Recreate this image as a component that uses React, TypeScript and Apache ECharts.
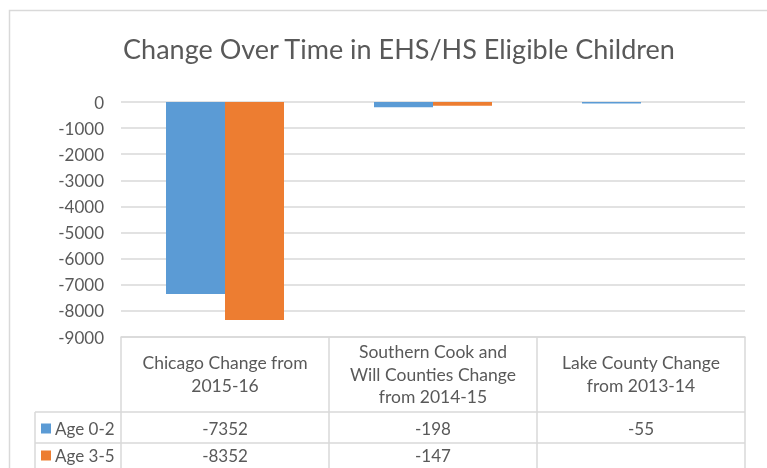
import React, { useEffect, useRef } from "react";
import * as echarts from "echarts";

const categories = [
  "Chicago Change from\n2015-16",
  "Southern Cook and\nWill Counties Change\nfrom 2014-15",
  "Lake County Change\nfrom 2013-14",
];
const seriesNames = ["Age 0-2", "Age 3-5"];
const age02 = [-7352, -198, -55];
const age35: (number | null)[] = [-8352, -147, null];
const colors = ["#5b9bd5", "#ed7d31"];
const yTicks = { min: -9000, max: 0, interval: 1000 };

const FONT = "Lato";
const TXT = "#595959";
const LINE = "#d9d9d9";

export default function App() {
  const ref = useRef<HTMLDivElement>(null);
  useEffect(() => {
    if (!ref.current) return;
    const chart = echarts.init(ref.current, null, { renderer: "svg" });
    const gridLeft = 121, gridRight = 22, gridTop = 102, gridBottom = 131;
    chart.setOption({
      animation: false,
      textStyle: { fontFamily: FONT },
      title: {
        text: "Change Over Time in EHS/HS Eligible Children",
        left: 394,
        top: 30,
        textAlign: "center",
        textStyle: { fontFamily: FONT, fontSize: 27, fontWeight: "normal", color: TXT },
      },
      grid: { left: gridLeft, right: gridRight, top: gridTop, bottom: gridBottom, containLabel: false },
      xAxis: {
        type: "category",
        data: categories,
        position: "bottom",
        axisLine: { show: true, onZero: false, lineStyle: { color: LINE, width: 1.5 } },
        axisTick: { show: true, alignWithLabel: false, inside: false, length: 131, lineStyle: { color: LINE, width: 1.5 } },
        axisLabel: {
          interval: 0,
          margin: 37,
          verticalAlign: "middle",
          align: "center",
          fontFamily: FONT,
          fontSize: 17.5,
          lineHeight: 22.5,
          color: TXT,
        },
      },
      yAxis: {
        type: "value",
        min: yTicks.min,
        max: yTicks.max,
        interval: yTicks.interval,
        axisLine: { show: false },
        axisTick: { show: false },
        splitLine: { show: true, lineStyle: { color: LINE, width: 1.5 } },
        axisLabel: { fontFamily: FONT, fontSize: 17, color: TXT, margin: 17, formatter: (v: number) => String(v) },
      },
      series: [
        { name: seriesNames[0], type: "bar", data: age02, barWidth: 59, barGap: "0%", itemStyle: { color: colors[0] } },
        { name: seriesNames[1], type: "bar", data: age35, barWidth: 59, barGap: "0%", itemStyle: { color: colors[1] } },
      ],
    });

    // Data table below the plot, positioned from the axis scale
    const xs = categories.map((_, i) => chart.convertToPixel({ xAxisIndex: 0 }, i) as number);
    const bandW = xs.length > 1 ? xs[1] - xs[0] : 208;
    const tableLeft = 35;
    const right = xs[xs.length - 1] + bandW / 2;
    const rowTops = [412, 443];
    const rowCenters = [428.5, 455.5];
    const graphic: any[] = [
      { type: "rect", shape: { x: 9.5, y: 10.5, width: 800, height: 500 }, style: { fill: "none", stroke: LINE, lineWidth: 1.5 }, silent: true },
    ];
    rowTops.forEach((y) => {
      graphic.push({ type: "line", shape: { x1: tableLeft, y1: y, x2: right, y2: y }, style: { stroke: LINE, lineWidth: 1.5 } });
    });
    graphic.push({ type: "line", shape: { x1: tableLeft, y1: rowTops[0], x2: tableLeft, y2: 470 }, style: { stroke: LINE, lineWidth: 1.5 } });
    const rows = [age02, age35];
    rows.forEach((vals, r) => {
      const cy = rowCenters[r];
      graphic.push({ type: "rect", shape: { x: tableLeft + 6, y: cy - 5, width: 10, height: 10 }, style: { fill: colors[r] } });
      graphic.push({
        type: "text",
        x: tableLeft + 20,
        y: cy,
        style: { text: seriesNames[r], fontFamily: FONT, fontSize: 17, fill: TXT, verticalAlign: "middle", align: "left" },
      });
      vals.forEach((v, i) => {
        if (v === null || v === undefined) return;
        graphic.push({
          type: "text",
          x: xs[i],
          y: cy,
          style: { text: String(v), fontFamily: FONT, fontSize: 17, fill: TXT, verticalAlign: "middle", align: "center" },
        });
      });
    });
    chart.setOption({ graphic });
    return () => chart.dispose();
  }, []);
  return <div ref={ref} style={{ position: "fixed", left: 0, top: 0, width: 767, height: 468 }} />;
}
